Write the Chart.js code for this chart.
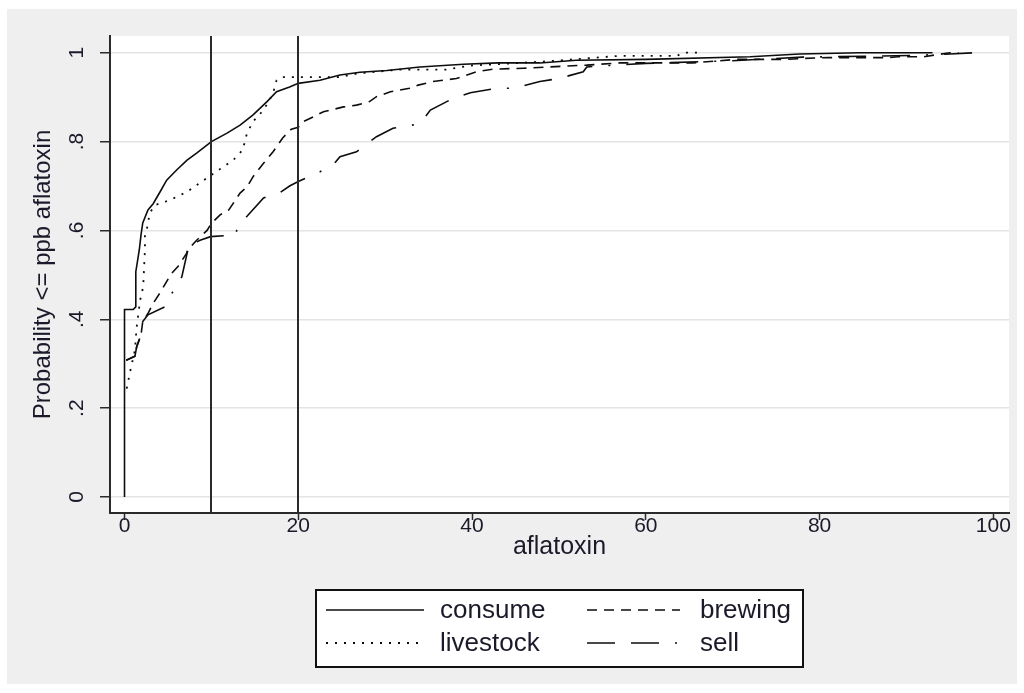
<!DOCTYPE html>
<html>
<head>
<meta charset="utf-8">
<script src="https://cdn.jsdelivr.net/npm/chart.js@4/dist/chart.umd.min.js"></script>
<style>
  html, body { margin: 0; padding: 0; background: #ffffff; }
  #wrap { width: 1024px; height: 693px; }
</style>
</head>
<body>
<div id="wrap"><canvas id="cdf" width="1024" height="693"></canvas></div>
<script>
// Series: aflatoxin (ppb) and cumulative probability
const consumeX = [0, 0, 1.0, 1.3, 1.3, 1.7, 1.9, 2.1, 2.7, 3.3, 4.1, 4.85, 6.0, 7.2, 8.3, 10, 11.8, 13.3, 14.8, 16.4, 17.5, 19, 20, 22.5, 24.8, 27.1, 30.2, 34, 39, 43, 47.8, 52, 60, 72, 77.7, 84.6, 93];
const consumeP = [0, 0.422, 0.422, 0.428, 0.507, 0.556, 0.59, 0.617, 0.646, 0.66, 0.687, 0.713, 0.736, 0.758, 0.774, 0.80, 0.819, 0.837, 0.86, 0.89, 0.912, 0.923, 0.931, 0.938, 0.95, 0.956, 0.96, 0.968, 0.974, 0.977, 0.977, 0.983, 0.985, 0.991, 0.997, 1.0, 1.0];

const livestockX = [0.25, 0.6, 1.2, 1.4, 1.8, 2.15, 2.35, 2.35, 2.55, 2.9, 3.5, 5.2, 7.2, 10, 12.5, 13.6, 14.1, 14.8, 16, 16.7, 17.1, 17.5, 18.1, 24.8, 26.7, 31.7, 37, 39.8, 43.6, 49, 53, 57, 63.6, 64.3, 66.6];
const livestockP = [0.244, 0.278, 0.331, 0.383, 0.443, 0.473, 0.556, 0.593, 0.6, 0.639, 0.657, 0.668, 0.687, 0.725, 0.758, 0.781, 0.819, 0.845, 0.871, 0.894, 0.909, 0.938, 0.945, 0.945, 0.953, 0.962, 0.962, 0.971, 0.975, 0.981, 0.987, 0.993, 0.993, 1.0, 1.0];

const brewingX = [0.2, 1.2, 1.4, 1.9, 2.1, 2.7, 3.3, 4.1, 5, 5.4, 6.2, 7.2, 7.8, 8.3, 9.5, 10, 11, 12, 13.3, 14.1, 14.8, 16, 17.1, 18.2, 19.2, 20, 20.6, 22.9, 25.2, 26.7, 28.2, 29, 30.6, 32.8, 33.8, 35.5, 38.2, 40.5, 42.4, 45.9, 50.9, 53.2, 57, 65.4, 70.4, 76, 78, 81, 88, 89, 92, 95, 96];
const brewingP = [0.308, 0.317, 0.338, 0.365, 0.395, 0.413, 0.436, 0.46, 0.49, 0.503, 0.52, 0.55, 0.567, 0.578, 0.60, 0.616, 0.635, 0.646, 0.684, 0.698, 0.721, 0.751, 0.777, 0.808, 0.828, 0.832, 0.845, 0.867, 0.878, 0.882, 0.89, 0.901, 0.912, 0.92, 0.927, 0.935, 0.942, 0.957, 0.963, 0.965, 0.97, 0.972, 0.977, 0.977, 0.985, 0.985, 0.987, 0.989, 0.989, 0.991, 0.991, 1.0, 1.0];

const sellX = [0.2, 1.2, 1.4, 1.9, 2.1, 2.7, 4.85, 5.2, 6.6, 7.2, 7.2, 7.9, 8.7, 9.9, 12.9, 12.9, 13.3, 14.1, 16, 17.9, 19, 20, 22.5, 24, 24.8, 26.7, 29, 30.9, 34, 35.2, 37.8, 39.8, 42.8, 44.8, 47.8, 50, 52.8, 53.2, 54.7, 60, 70, 78, 85, 91, 95, 98];
const sellP = [0.308, 0.317, 0.338, 0.365, 0.395, 0.41, 0.43, 0.45, 0.496, 0.548, 0.567, 0.57, 0.578, 0.586, 0.59, 0.6, 0.617, 0.632, 0.673, 0.685, 0.7, 0.71, 0.732, 0.747, 0.766, 0.777, 0.811, 0.83, 0.84, 0.871, 0.897, 0.91, 0.92, 0.92, 0.935, 0.942, 0.957, 0.968, 0.97, 0.976, 0.982, 0.99, 0.992, 0.994, 0.997, 1.0];

const seriesNames = ["consume", "livestock", "brewing", "sell"];
const xTicks = [0, 20, 40, 60, 80, 100];
const yTicks = [0, 0.2, 0.4, 0.6, 0.8, 1];
const yTickLabels = ["0", ".2", ".4", ".6", ".8", "1"];
const refLines = [10, 20];

const dashes = {
  consume: [],
  livestock: [2, 7],
  brewing: [10, 7],
  sell: [28, 16, 28, 16, 2, 16]
};

function toPoints(xs, ps) {
  let pts = [];
  for (let i = 0; i < xs.length; i++) {
    pts.push({ x: xs[i], y: ps[i] });
  }
  return pts;
}

const allData = {
  consume: toPoints(consumeX, consumeP),
  livestock: toPoints(livestockX, livestockP),
  brewing: toPoints(brewingX, brewingP),
  sell: toPoints(sellX, sellP)
};

let datasets = [];
for (let i = 0; i < seriesNames.length; i++) {
  const name = seriesNames[i];
  datasets.push({
    label: name,
    data: allData[name],
    showLine: true,
    borderColor: "#0d0d0d",
    borderWidth: name === "livestock" ? 1.8 : 1.6,
    borderDash: dashes[name],
    pointRadius: 0,
    tension: 0,
    fill: false
  });
}

// page background, gray graph region, white plot region
const framePlugin = {
  id: "frame",
  beforeDraw(chart) {
    const ctx = chart.ctx;
    const a = chart.chartArea;
    ctx.save();
    ctx.fillStyle = "#ffffff";
    ctx.fillRect(0, 0, chart.width, chart.height);
    ctx.fillStyle = "#efefef";
    ctx.fillRect(7, 9, 1010, 675);
    ctx.fillStyle = "#ffffff";
    ctx.fillRect(a.left, a.top, a.right - a.left, a.bottom - a.top);
    ctx.restore();
  }
};

// vertical reference lines at 10 and 20 ppb
const refLinePlugin = {
  id: "reflines",
  afterDatasetsDraw(chart) {
    const ctx = chart.ctx;
    const a = chart.chartArea;
    const xs = chart.scales.x;
    ctx.save();
    ctx.strokeStyle = "#2a2a2a";
    ctx.lineWidth = 2;
    refLines.forEach((v) => {
      const px = Math.round(xs.getPixelForValue(v));
      ctx.beginPath();
      ctx.moveTo(px, a.top);
      ctx.lineTo(px, a.bottom);
      ctx.stroke();
    });
    ctx.restore();
  }
};

// boxed two-column legend below the axis title
const legendBoxPlugin = {
  id: "legendbox",
  afterDraw(chart) {
    const ctx = chart.ctx;
    const box = { left: 316, top: 590, right: 803, bottom: 667 };
    const rows = [610, 643];
    const cols = [{ x0: 326, x1: 424, tx: 440 }, { x0: 587, x1: 680, tx: 700 }];
    ctx.save();
    ctx.fillStyle = "#ffffff";
    ctx.fillRect(box.left, box.top, box.right - box.left, box.bottom - box.top);
    ctx.strokeStyle = "#111111";
    ctx.lineWidth = 2;
    ctx.strokeRect(box.left, box.top, box.right - box.left, box.bottom - box.top);
    ctx.font = "26px 'Liberation Sans', Arial, sans-serif";
    ctx.textBaseline = "middle";
    ctx.textAlign = "left";
    // order: consume, brewing / livestock, sell
    const order = [["consume", "brewing"], ["livestock", "sell"]];
    for (let r = 0; r < 2; r++) {
      for (let c = 0; c < 2; c++) {
        const name = order[r][c];
        const col = cols[c];
        ctx.strokeStyle = "#0d0d0d";
        ctx.lineWidth = name === "livestock" ? 1.8 : 1.6;
        ctx.setLineDash(dashes[name]);
        ctx.beginPath();
        ctx.moveTo(col.x0, rows[r]);
        ctx.lineTo(col.x1, rows[r]);
        ctx.stroke();
        ctx.setLineDash([]);
        ctx.fillStyle = "#1a1a2a";
        ctx.fillText(name, col.tx, rows[r] + 1);
      }
    }
    ctx.restore();
  }
};

const tickFont = { family: "'Liberation Sans', Arial, sans-serif", size: 21, lineHeight: 1 };

const chart = new Chart(document.getElementById("cdf"), {
  type: "scatter",
  data: { datasets: datasets },
  options: {
    responsive: false,
    animation: false,
    layout: { padding: { top: 36, right: 15, bottom: 120, left: 0 } },
    plugins: {
      legend: { display: false },
      tooltip: { enabled: false }
    },
    scales: {
      x: {
        type: "linear",
        min: -1.67,
        max: 101.8,
        afterBuildTicks: (scale) => {
          scale.ticks = xTicks.map((v) => ({ value: v }));
        },
        afterFit: (scale) => {
          scale.height = 60;
        },
        grid: {
          drawOnChartArea: false,
          tickLength: 7,
          tickColor: "#2a2a2a",
          tickWidth: 1.5
        },
        border: { color: "#2a2a2a", width: 2 },
        ticks: {
          color: "#1a1a2a",
          font: tickFont,
          padding: -4,
          maxRotation: 0,
          autoSkip: false
        },
        title: {
          display: true,
          text: "aflatoxin",
          color: "#1a1a2a",
          font: { family: "'Liberation Sans', Arial, sans-serif", size: 25, lineHeight: 1 },
          padding: { top: 0, bottom: 13 }
        }
      },
      y: {
        type: "linear",
        min: -0.036,
        max: 1.0376,
        afterBuildTicks: (scale) => {
          scale.ticks = yTicks.map((v) => ({ value: v }));
        },
        afterFit: (scale) => {
          scale.width = 110;
        },
        grid: {
          color: "#e4e4e4",
          lineWidth: 1.5,
          tickLength: 10,
          tickColor: "#2a2a2a",
          tickWidth: 1.5
        },
        border: { color: "#2a2a2a", width: 2 },
        ticks: {
          color: "#1a1a2a",
          font: tickFont,
          padding: 14,
          minRotation: 90,
          maxRotation: 90,
          crossAlign: "center",
          autoSkip: false,
          callback: (value) => {
            const i = yTicks.findIndex((t) => Math.abs(t - value) < 1e-9);
            return i >= 0 ? yTickLabels[i] : "";
          }
        },
        title: {
          display: true,
          text: "Probability <= ppb aflatoxin",
          color: "#1a1a2a",
          font: { family: "'Liberation Sans', Arial, sans-serif", size: 24, lineHeight: 1 },
          padding: { top: 31, bottom: 0 }
        }
      }
    }
  },
  plugins: [framePlugin, refLinePlugin, legendBoxPlugin]
});
</script>
</body>
</html>
